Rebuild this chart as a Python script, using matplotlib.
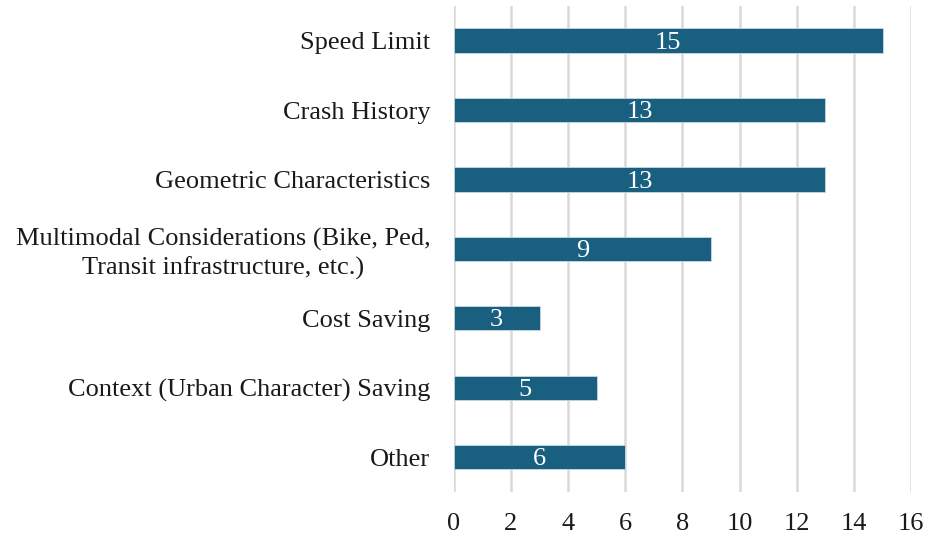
import matplotlib
matplotlib.use("Agg")
import matplotlib.pyplot as plt

categories = ["Speed Limit", "Crash History", "Geometric Characteristics",
              "Multimodal Considerations (Bike, Ped,\nTransit infrastructure, etc.)",
              "Cost Saving", "Context (Urban Character) Saving", "Other"]
values = [15, 13, 13, 9, 3, 5, 6]
xticks = [0, 2, 4, 6, 8, 10, 12, 14, 16]

plt.rcParams['font.family'] = ['Liberation Serif', 'DejaVu Serif']

fig = plt.figure(figsize=(9.26, 5.37), dpi=100)
ax = fig.add_axes([0.490, 0.084, 0.494, 0.905])

y = list(range(len(categories)))
bars = ax.barh(y, values, height=0.35, color="#185F80", edgecolor="#C9D7E0", linewidth=0.6, zorder=3)
for b, v in zip(bars, values):
    ax.text(b.get_width() / 2, b.get_y() + b.get_height() / 2 + 0.03, str(v),
            ha="center", va="center", color="white", fontsize=19, zorder=4)

ax.set_yticks(y)
ax.set_yticklabels(categories, fontsize=19, ha="right", multialignment="center", linespacing=1.3)
ax.set_ylim(len(categories) - 0.5, -0.5)
ax.set_xlim(0, 16)
ax.set_xticks(xticks)
ax.set_xticklabels([str(t) for t in xticks], fontsize=19)
ax.tick_params(axis="both", length=0, colors="#1a1a1a")
ax.tick_params(axis="x", pad=15)
ax.tick_params(axis="y", pad=17)
ax.grid(axis="x", color="#D9D9D9", linewidth=1.8, zorder=0)
for s in ax.spines.values():
    s.set_visible(False)

fig.savefig("out.png", dpi=100)
